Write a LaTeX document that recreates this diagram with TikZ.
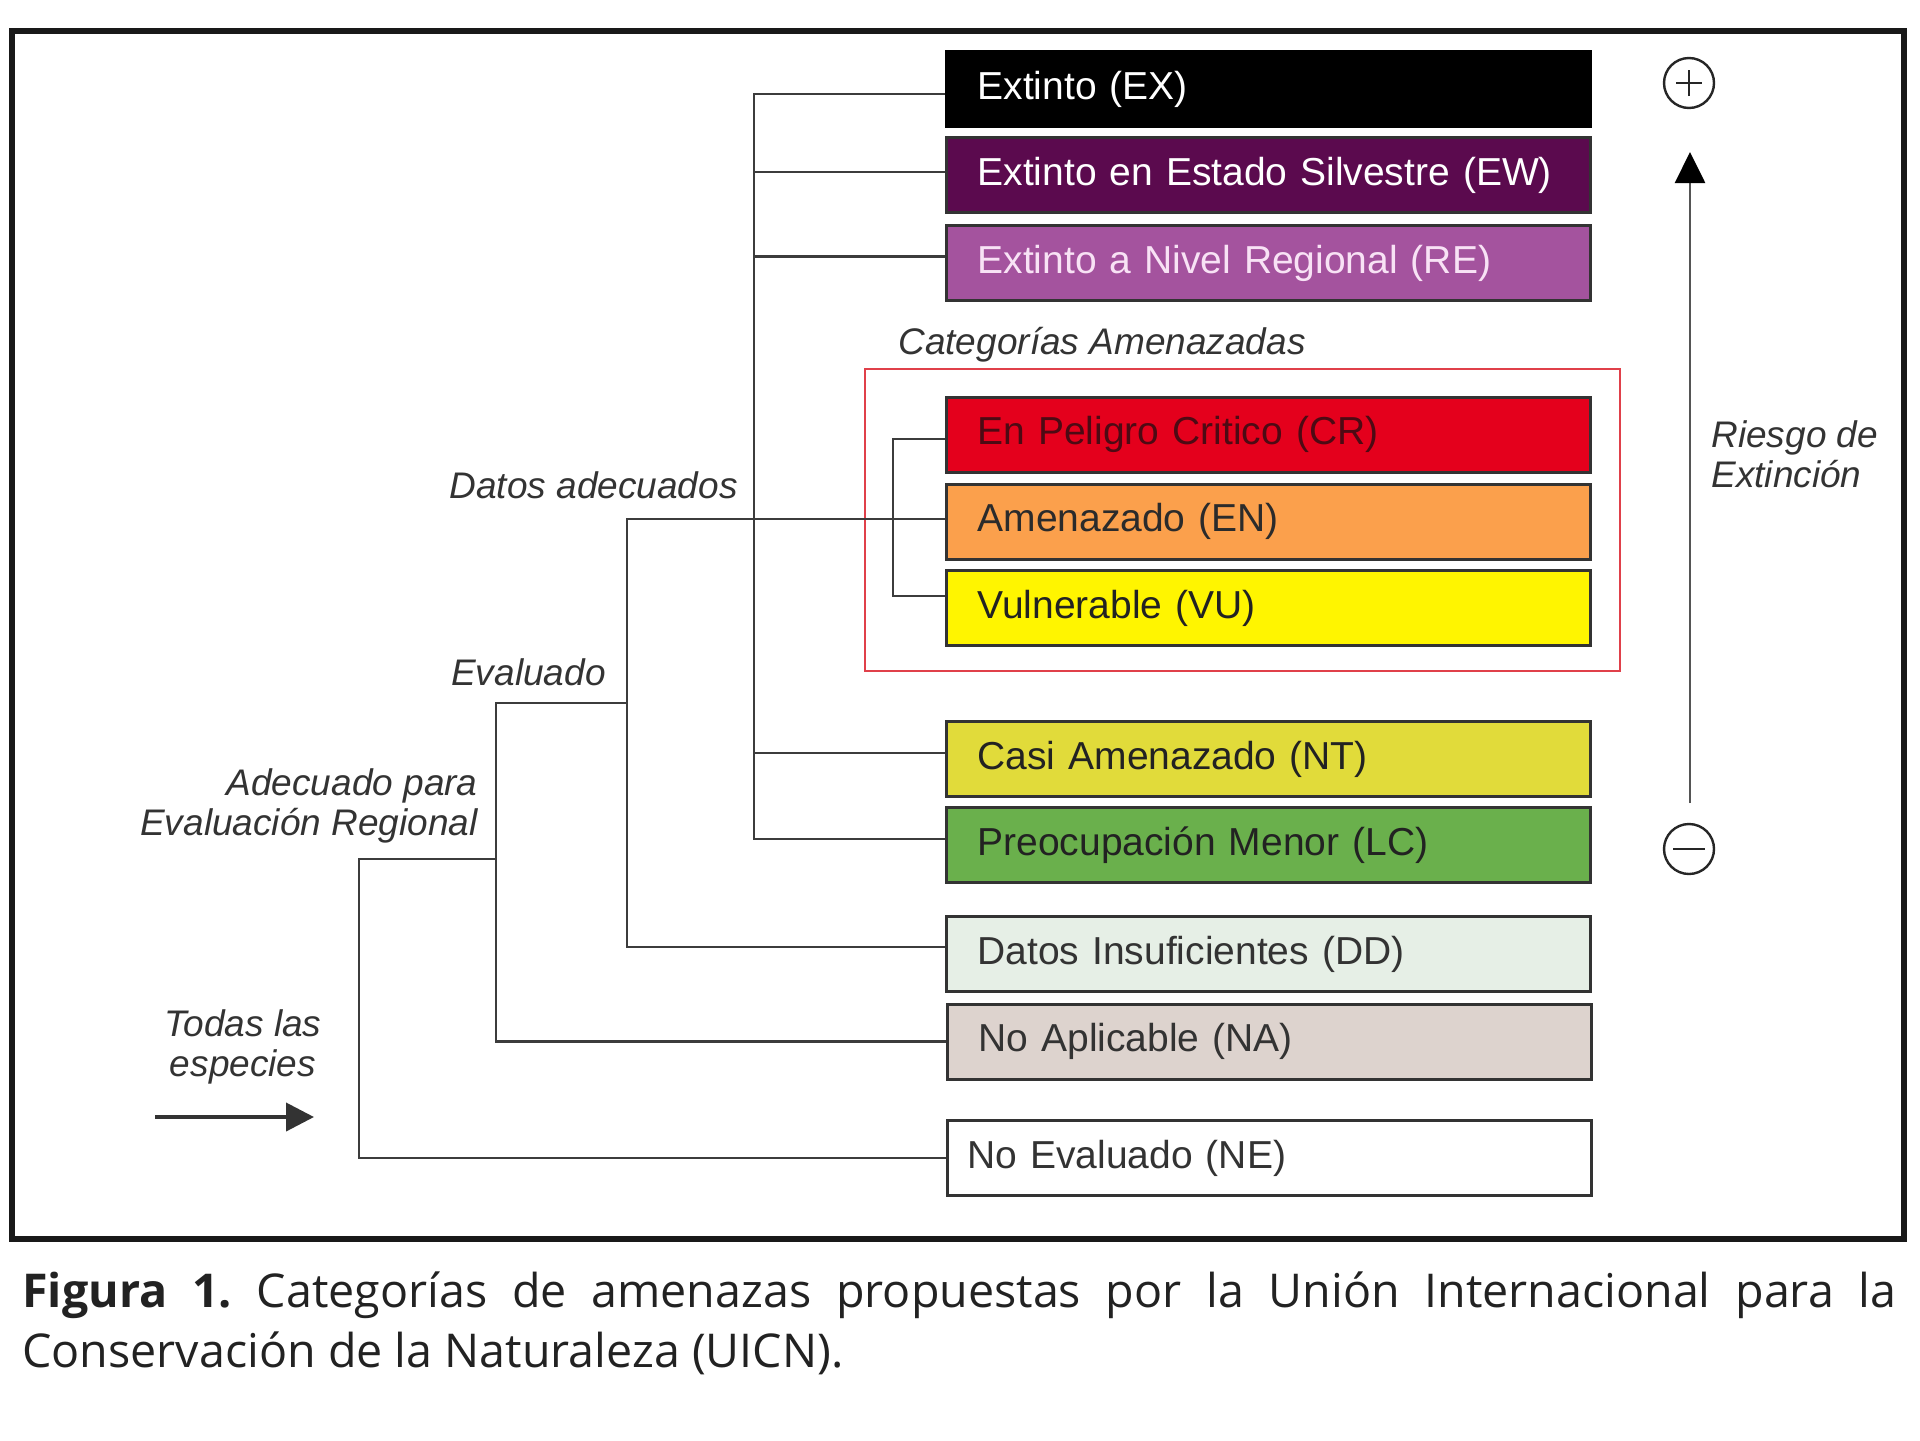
\documentclass[tikz,border=0pt]{standalone}
\usepackage{fontspec}
\setmainfont{Liberation Sans}
\newfontfamily\capf{Open Sans}
\usetikzlibrary{arrows.meta}
\definecolor{cEW}{HTML}{5B0A4E}
\definecolor{cRE}{HTML}{A4539E}
\definecolor{cCR}{HTML}{E4001C}
\definecolor{cEN}{HTML}{FBA04C}
\definecolor{cVU}{HTML}{FFF500}
\definecolor{cNT}{HTML}{E1DB3A}
\definecolor{cLC}{HTML}{6AB04C}
\definecolor{cDD}{HTML}{E6EFE6}
\definecolor{cNA}{HTML}{DDD3CE}
\definecolor{boxline}{HTML}{333333}
\definecolor{connc}{HTML}{3C3C3C}
\definecolor{lblc}{HTML}{333333}
\definecolor{redc}{HTML}{E0404A}
\definecolor{capc}{HTML}{222222}
\definecolor{tRE}{HTML}{F8E2F5}
\definecolor{tCR}{HTML}{4D0A14}
\definecolor{tEN}{HTML}{2B2B2B}
\definecolor{tdark}{HTML}{222222}
\definecolor{tgray}{HTML}{333333}
\definecolor{axisc}{HTML}{555555}
\begin{document}
\begin{tikzpicture}[x=0.5pt,y=-0.5pt,
  cat/.style={draw=boxline, line width=1.5pt, minimum height=37.5pt, text width=291pt,
    inner xsep=15.5pt, inner ysep=0pt, align=left, font=\fontsize{19.5}{24}\selectfont},
  conn/.style={draw=connc, line width=1.3pt},
  lbl/.style={font=\itshape\fontsize{18.5}{20}\selectfont, text=lblc, inner sep=0pt},
  circ/.style={circle, draw=black!85, line width=1.2pt, minimum size=25pt, inner sep=0pt}]
\useasboundingbox (0,0) rectangle (1920,1440);
\fill[white] (0,0) rectangle (1920,1440);
\draw[line width=3pt, black!90] (12,31) rectangle (1904,1239);

% category boxes
\node[cat, fill=black, draw=black, text=white] (EX) at (1268.5,89) {Extinto (EX)};
\node[cat, fill=cEW, text=white] (EW) at (1268.5,175) {Extinto en Estado Silvestre (EW)};
\node[cat, fill=cRE, text=tRE] (RE) at (1268.5,263) {Extinto a Nivel Regional (RE)};
\node[cat, fill=cCR, text=tCR] (CR) at (1268.5,434.5) {En Peligro Critico (CR)};
\node[cat, fill=cEN, text=tEN] (EN) at (1268.5,521.5) {Amenazado (EN)};
\node[cat, fill=cVU, text=tdark] (VU) at (1268.5,608) {Vulnerable (VU)};
\node[cat, fill=cNT, text=tdark] (NT) at (1268.5,759) {Casi Amenazado (NT)};
\node[cat, fill=cLC, text=tdark] (LC) at (1268.5,845) {Preocupación Menor (LC)};
\node[cat, fill=cDD, text=tgray] (DD) at (1268.5,954) {Datos Insuficientes (DD)};
\node[cat, fill=cNA, text=tgray] (NA) at (1269.5,1041.5) {No Aplicable (NA)};
\node[cat, fill=white, text=tgray, inner xsep=10pt, text width=302pt] (NE) at (1269.5,1158) {No Evaluado (NE)};

% threatened frame
\draw[redc, line width=1pt] (865,369) rectangle (1620,671);
\node[lbl, anchor=west] (lcat) at (898,345) {Categorías Amenazadas};

% connector coordinates
\coordinate (c) at (754,0);
\coordinate (t) at (893,0);
\coordinate (d) at (627,519);
\coordinate (e) at (496,703);
\coordinate (a) at (359,859);
\coordinate (exb) at ([yshift=-2.5pt]EX.west);
\coordinate (ewb) at ([yshift=1.5pt]EW.west);
\coordinate (reb) at ([yshift=3.25pt]RE.west);
\coordinate (crb) at ([yshift=-2.25pt]CR.west);
\coordinate (vub) at ([yshift=6pt]VU.west);
\coordinate (ntb) at ([yshift=3pt]NT.west);
\coordinate (lcb) at ([yshift=3pt]LC.west);
\coordinate (ddb) at ([yshift=3.5pt]DD.west);

% connectors
\draw[conn] (exb) -- (exb -| c) -- (lcb -| c) -- (lcb);
\draw[conn] (ewb) -- (ewb -| c);
\draw[conn] (reb) -- (reb -| c);
\draw[conn] (ntb) -- (ntb -| c);
\draw[conn] (crb) -- (crb -| t) -- (vub -| t) -- (vub);
\draw[conn] (ddb) -| (d) -- (d -| EN.west);
\draw[conn] (NA.west) -| (e) -- (e -| d);
\draw[conn] (NE.west) -| (a) -- (a -| e);

% branch labels
\node[lbl, anchor=east] (ldat) at (738,485) {Datos adecuados};
\node[lbl, anchor=east] (leva) at (606,672) {Evaluado};
\node[lbl, anchor=east, align=right] (lade) at (478,806) {Adecuado para\\Evaluación Regional};
\node[lbl, align=center] (ltod) at (243,1047) {Todas las\\especies};

% entry arrow
\coordinate (s0) at (155,1117);
\coordinate (s1) at (314,1117);
\draw[draw=boxline, line width=2pt, -{Triangle[length=14pt,width=14pt]}] (s0) -- (s1);

% risk axis
\node[circ] (plus) at (1689,83) {};
\draw[line width=1.2pt, black!85] ([xshift=-6.5pt]plus.center) -- ([xshift=6.5pt]plus.center)
  ([yshift=-6.5pt]plus.center) -- ([yshift=6.5pt]plus.center);
\node[circ] (minus) at (1689,849) {};
\draw[line width=1.2pt, black!85] ([xshift=-8pt]minus.center) -- ([xshift=8pt]minus.center);
\coordinate (r0) at (1690,803);
\coordinate (r1) at (1690,152);
\draw[draw=axisc, line width=1.3pt, -{Triangle[length=15.5pt,width=15pt,color=black,fill=black]}] (r0) -- (r1);
\node[lbl, anchor=west, align=left] (lrisk) at (1711,454) {Riesgo de\\Extinción};

% caption
\node[anchor=west, align=left, inner sep=0pt, text=capc, font=\capf\fontsize{23.3}{30}\selectfont] (cap) at (22,1323)
 {\frenchspacing\makebox[937pt][s]{\textbf{Figura 1.} Categorías de amenazas propuestas por la Unión Internacional para la}\\Conservación de la Naturaleza (UICN).};
\end{tikzpicture}
\end{document}
